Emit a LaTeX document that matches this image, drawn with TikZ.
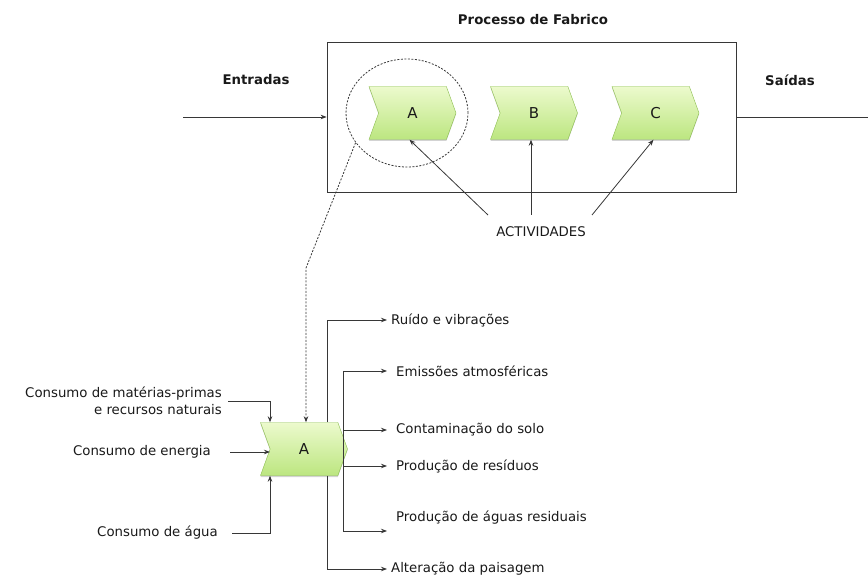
\documentclass[tikz,border=0pt]{standalone}
\usepackage{fontspec}
\setmainfont{DejaVu Sans}
\usetikzlibrary{shapes.symbols,shapes.geometric,arrows.meta,shadows}
\definecolor{linec}{RGB}{55,55,55}
\definecolor{txtc}{RGB}{25,25,25}
\definecolor{chevtop}{RGB}{236,250,205}
\definecolor{chevbot}{RGB}{188,230,128}
\definecolor{chevborder}{RGB}{140,190,80}
\begin{document}
\begin{tikzpicture}[x=1pt,y=-1pt,
  font=\fontsize{13.3}{16}\selectfont, text=txtc,
  chev/.style={signal, signal from=west, signal to=east, signal pointer angle=140,
    minimum width=87pt, minimum height=53pt, inner sep=0pt, draw=chevborder,
    top color=chevtop, bottom color=chevbot,
    drop shadow={opacity=0.35, shadow xshift=0pt, shadow yshift=-1.5pt},
    font=\fontsize{15}{17}\selectfont},
  ln/.style={draw=linec, line width=0.8pt},
  arr/.style={ln, -{Stealth[length=6pt,width=4.5pt]}},
  dsh/.style={draw=linec, line width=0.8pt, dash pattern=on 2pt off 1.5pt},
  ttl/.style={font=\bfseries\fontsize{13.3}{16}\selectfont}
]
\useasboundingbox (0,0) rectangle (868,577);

% top part
\node[ttl] (title) at (533,20) {Processo de Fabrico};
\node[draw=linec, line width=0.8pt, minimum width=409pt, minimum height=150pt, inner sep=0pt] (box) at (531.5,117) {};
\node[ttl] (ent) at (256,80) {Entradas};
\node[ttl] (sai) at (790,80) {Saídas};
\coordinate (inL) at (183,117);
\coordinate (outR) at (868,117);
\draw[arr] (inL) -- (box.west);
\draw[ln] (box.east) -- (outR);

\node[chev] (A) at (412.5,113) {A};
\node[chev] (B) at (534,113) {B};
\node[chev] (C) at (655.5,113) {C};
\node[ellipse, dsh, minimum width=122pt, minimum height=108pt, inner sep=0pt] (E) at (407,113) {};

\node (act) at (541,232) {ACTIVIDADES};
\coordinate (s1) at (488,215);
\coordinate (s2) at (531,215);
\coordinate (s3) at (592,215);
\draw[arr] (s1) -- ([xshift=-3pt]A.south);
\draw[arr] (s2) -- (B.south -| s2);
\draw[arr] (s3) -- ([xshift=-2pt]C.south);

% lower part
\node[chev] (A2) at (304,449) {A};
\coordinate (bend) at (306,268);
\draw[dsh, -{Stealth[length=6pt,width=4.5pt]}] (E.210) -- (bend) -- (A2.north -| bend);

% inputs
\coordinate (p1) at (270,0);
\node[anchor=east, align=right, inner sep=0pt, font=\fontsize{13.3}{17}\selectfont] (t1) at (222,401) {Consumo de matérias-primas\\e recursos naturais};
\node[anchor=east, inner sep=0pt] (t2) at (211,452) {Consumo de energia};
\node[anchor=east, inner sep=0pt] (t3) at (218,533) {Consumo de água};
\draw[arr] ([xshift=6pt]t1.east) -| (A2.north -| p1);
\draw[arr] ([xshift=19pt]t2.east) -- (p1 |- t2.east);
\draw[arr] ([xshift=14pt]t3.east) -| (A2.south -| p1);

% outputs
\coordinate (q1) at (327,0);
\coordinate (q2) at (343,0);
\node[anchor=west, inner sep=0pt] (o1) at (391,320) {Ruído e vibrações};
\node[anchor=west, inner sep=0pt] (o2) at (396,371) {Emissões atmosféricas};
\node[anchor=west, inner sep=0pt] (o3) at (396,430) {Contaminação do solo};
\node[anchor=west, inner sep=0pt] (o4) at (396,466) {Produção de resíduos};
\node[anchor=west, inner sep=0pt] (o5) at (396,518) {Produção de águas residuais};
\node[anchor=west, inner sep=0pt] (o6) at (391,569) {Alteração da paisagem};

\draw[arr] (A2.north -| q1) |- ([xshift=-4pt]o1.west);
\draw[arr] (A2.south -| q1) |- ([xshift=-4pt]o6.west);

\coordinate (b1) at (343,371);
\coordinate (b2) at (343,531);
\coordinate (e5) at (387,531);
\draw[ln] (b1) -- (b2);
\draw[arr] (b1) -- ([xshift=-9pt]o2.west);
\draw[arr] (q2 |- o3.west) -- ([xshift=-9pt]o3.west);
\draw[arr] (q2 |- o4.west) -- ([xshift=-9pt]o4.west);
\draw[arr] (b2) -- (e5);
\end{tikzpicture}
\end{document}
